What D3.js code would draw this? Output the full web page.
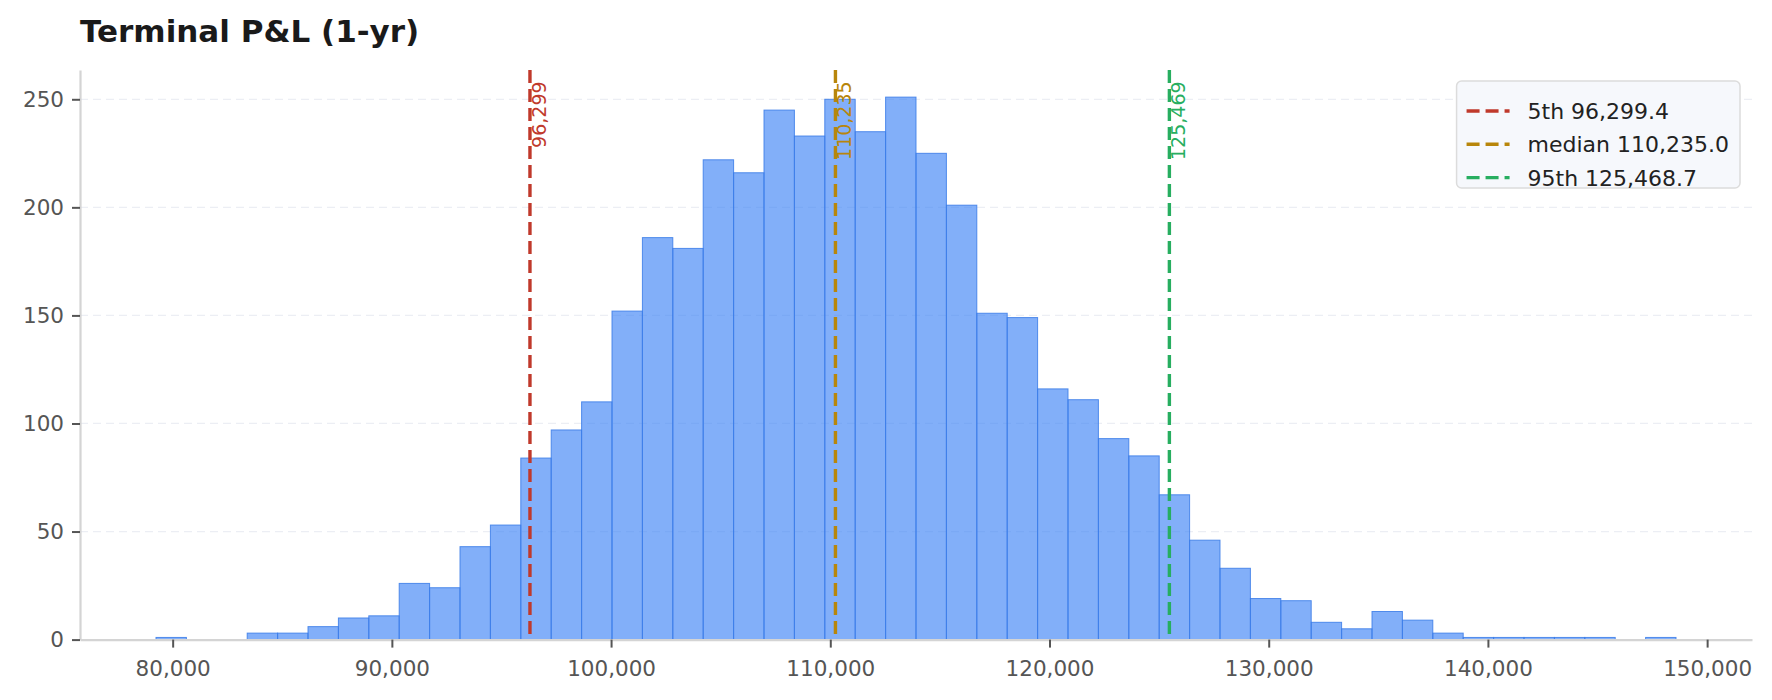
<!DOCTYPE html>
<html>
<head>
<meta charset="utf-8">
<script src="https://cdn.jsdelivr.net/npm/d3@7"></script>
<style>
    body { margin: 0; background: #fff; }
    #chart { width: 1772px; height: 700px; }
    text { font-family: "DejaVu Sans", sans-serif; }
</style>
</head>
<body>
<div id="chart"></div>
<script>
// histogram of terminal P&L, 50 bins between the min and max sample
const binRange = [79240, 148580];
const binCounts = [1, 0, 0, 3, 3, 6, 10, 11, 26, 24,
    43, 53, 84, 97, 110, 152, 186, 181, 222, 216,
    245, 233, 250, 235, 251, 225, 201, 151, 149, 116,
    111, 93, 85, 67, 46, 33, 19, 18, 8, 5,
    13, 9, 3, 1, 1, 1, 1, 1, 0, 1];

const markerNames = ['5th', 'median', '95th'];
const markerValues = [96299.4, 110235.0, 125468.7];

const xTicks = [80000, 90000, 100000, 110000, 120000, 130000, 140000, 150000];
const yTicks = [0, 50, 100, 150, 200, 250];

class HistVis {

    constructor(parentElement) {
        this.parentElement = parentElement;
        this.initVis();
    }

    initVis() {
        let vis = this;

        vis.margin = {top: 70, right: 20, bottom: 60, left: 80};
        vis.width = 1772 - vis.margin.left - vis.margin.right;
        vis.height = 639.6 - vis.margin.top;

        vis.root = d3.select('#' + vis.parentElement).append('svg')
            .attr('width', 1772)
            .attr('height', 700);

        vis.svg = vis.root.append('g')
            .attr('transform', 'translate(' + vis.margin.left + ',' + vis.margin.top + ')');

        vis.root.append('text')
            .attr('x', 80)
            .attr('y', 42)
            .attr('font-size', 31)
            .attr('font-weight', 'bold')
            .attr('fill', '#1a1a1a')
            .text('Terminal P&L (1-yr)');

        vis.markerColors = ['#c0392b', '#b8860b', '#27ae60'];

        vis.wrangleData();
    }

    wrangleData() {
        let vis = this;
        let step = (binRange[1] - binRange[0]) / binCounts.length;
        vis.bins = binCounts.map((c, i) => ({
            x0: binRange[0] + step * i,
            x1: binRange[0] + step * (i + 1),
            count: c
        }));
        vis.updateVis();
    }

    updateVis() {
        let vis = this;

        let pad = (binRange[1] - binRange[0]) * 0.05;
        vis.x = d3.scaleLinear()
            .domain([binRange[0] - pad, binRange[1] + pad])
            .range([0, vis.width]);
        vis.y = d3.scaleLinear()
            .domain([0, d3.max(binCounts) * 1.05])
            .range([vis.height, 0]);

        // grid
        vis.svg.selectAll('.grid')
            .data(yTicks.filter(d => d > 0))
            .enter().append('line')
            .attr('class', 'grid')
            .attr('x1', 0).attr('x2', vis.width)
            .attr('y1', d => vis.y(d)).attr('y2', d => vis.y(d))
            .attr('stroke', '#eceef4')
            .attr('stroke-width', 1.2)
            .attr('stroke-dasharray', '8,5');

        // bars
        vis.svg.selectAll('.bar')
            .data(vis.bins.filter(d => d.count > 0))
            .enter().append('rect')
            .attr('class', 'bar')
            .attr('x', d => vis.x(d.x0))
            .attr('width', d => vis.x(d.x1) - vis.x(d.x0))
            .attr('y', d => vis.y(d.count))
            .attr('height', d => vis.y(0) - vis.y(d.count))
            .attr('fill', '#3b82f6')
            .attr('fill-opacity', 0.64)
            .attr('stroke', '#3b7de8')
            .attr('stroke-opacity', 0.85)
            .attr('stroke-width', 1);

        // axes
        let xAxis = d3.axisBottom(vis.x)
            .tickValues(xTicks)
            .tickFormat(d3.format(','))
            .tickSize(8).tickSizeOuter(0).tickPadding(8);
        let yAxis = d3.axisLeft(vis.y)
            .tickValues(yTicks)
            .tickSize(8).tickSizeOuter(0).tickPadding(8);

        let gx = vis.svg.append('g')
            .attr('transform', 'translate(0,' + vis.height + ')')
            .call(xAxis);
        let gy = vis.svg.append('g').call(yAxis);

        [gx, gy].forEach(g => {
            g.select('.domain').attr('stroke', '#d4d4d4').attr('stroke-width', 2.2);
            g.selectAll('.tick line').attr('stroke', '#555').attr('stroke-width', 2);
            g.selectAll('.tick text')
                .attr('fill', '#555')
                .attr('font-size', 21.5)
                .style('font-family', '"DejaVu Sans", sans-serif');
        });
        gx.selectAll('.tick text').attr('dy', '0.95em');

        // percentile lines
        let yTop = vis.y(d3.max(binCounts) * 1.05 * 0.98);
        markerValues.forEach(function (v, i) {
            let px = vis.x(v);
            vis.svg.append('line')
                .attr('x1', px).attr('x2', px)
                .attr('y1', 0).attr('y2', vis.height)
                .attr('stroke', vis.markerColors[i])
                .attr('stroke-width', 3.4)
                .attr('stroke-dasharray', '13,6');
            vis.svg.append('text')
                .attr('transform', 'translate(' + (px + 16) + ',' + yTop + ') rotate(-90)')
                .attr('text-anchor', 'end')
                .attr('font-size', 19)
                .attr('fill', vis.markerColors[i])
                .text(d3.format(',.0f')(v));
        });

        // legend
        let leg = vis.svg.append('g');
        let box = leg.append('rect')
            .attr('rx', 5)
            .attr('fill', '#f6f8fc')
            .attr('stroke', '#dcdcdc')
            .attr('stroke-width', 1.5);
        let maxW = 0;
        markerNames.forEach(function (name, i) {
            let ry = 30 + i * 33.3;
            leg.append('line')
                .attr('x1', 10).attr('x2', 53)
                .attr('y1', ry).attr('y2', ry)
                .attr('stroke', vis.markerColors[i])
                .attr('stroke-width', 3.4)
                .attr('stroke-dasharray', '13,6');
            let t = leg.append('text')
                .attr('x', 71).attr('y', ry)
                .attr('dy', '0.36em')
                .attr('font-size', 22)
                .attr('fill', '#222')
                .text(name + ' ' + d3.format(',.1f')(markerValues[i]));
            maxW = Math.max(maxW, t.node().getComputedTextLength());
        });
        let bw = 71 + maxW + 11;
        box.attr('x', 0).attr('y', 0).attr('width', bw).attr('height', 107);
        leg.attr('transform', 'translate(' + (vis.width - 12 - bw) + ',11)');
    }
}

new HistVis('chart');
</script>
</body>
</html>
